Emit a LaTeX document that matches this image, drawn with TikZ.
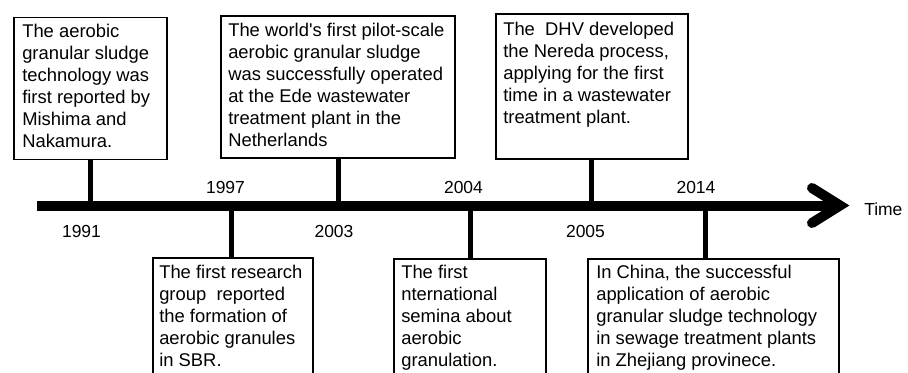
\documentclass[tikz,border=0pt]{standalone}
\usepackage{fontspec}
\setmainfont{Liberation Sans}
\newfontfamily\plainarial{Liberation Sans}
\begin{document}
\begin{tikzpicture}[x=0.75pt,y=-0.75pt,
  box/.style={draw=black, line width=1.3pt, fill=white, anchor=north west, inner sep=0pt},
  txt/.style={anchor=base west, align=left, inner sep=0pt, font=\plainarial\fontsize{13.8}{16.5}\selectfont},
  yr/.style={anchor=base, inner sep=0pt, font=\fontsize{13.1}{15}\selectfont},
  stem/.style={line width=3.75pt},
  axisline/.style={line width=7.5pt},
  head/.style={line width=7.5pt, line cap=round, line join=miter}]
\useasboundingbox (0,0) rectangle (908,372);
\clip (0,0) rectangle (908,372);
% axis
\coordinate (axs) at (37,205.5);
\coordinate (axe) at (838,205.5);
\coordinate (h1) at (812,188);
\coordinate (tip) at (840,205.5);
\coordinate (h2) at (812,223);
\draw[axisline] (axs) -- (axe);
\draw[head] (h1) -- (tip) -- (h2);
\node[anchor=base west, inner sep=0pt, font=\fontsize{13.1}{15}\selectfont] (time) at (864,215) {Time};
% tick coordinates on axis
\coordinate (a1) at (90.5,205.5);
\coordinate (a2) at (231,205.5);
\coordinate (a3) at (338.5,205.5);
\coordinate (a4) at (470,205.5);
\coordinate (a5) at (591.5,205.5);
\coordinate (a6) at (705,205.5);
% years
\node[yr] (y1991) at (81.5,237) {1991};
\node[yr] (y1997) at (225.5,193) {1997};
\node[yr] (y2003) at (334,237) {2003};
\node[yr] (y2004) at (463.5,193) {2004};
\node[yr] (y2005) at (585.5,237) {2005};
\node[yr] (y2014) at (696,193) {2014};
% top boxes
\node[box, minimum width=114.75pt, minimum height=106.5pt] (b1) at (13,16.7) {};
\node[box, minimum width=175.5pt, minimum height=106.5pt] (b2) at (220,15) {};
\node[box, minimum width=144pt, minimum height=108.75pt] (b3) at (495,13) {};
% bottom boxes (cut by the lower edge)
\node[box, minimum width=120pt, minimum height=97.5pt] (b4) at (152,257) {};
\node[box, minimum width=114pt, minimum height=97.5pt] (b5) at (393,258) {};
\node[box, minimum width=188.25pt, minimum height=97.5pt] (b6) at (587,258) {};
% stems
\draw[stem] (a1 |- b1.south) -- (a1);
\draw[stem] (a3 |- b2.south) -- (a3);
\draw[stem] (a5 |- b3.south) -- (a5);
\draw[stem] (a2) -- (a2 |- b4.north);
\draw[stem] (a4) -- (a4 |- b5.north);
\draw[stem] (a6) -- (a6 |- b6.north);
% texts (anchored at the baseline of the last line)
\node[txt] (t1) at (22,147.7) {The aerobic\\granular sludge\\technology was\\first reported by\\Mishima and\\Nakamura.};
\node[txt] (t2) at (228,146) {The world's first pilot-scale\\aerobic granular sludge\\was successfully operated\\at the Ede wastewater\\treatment plant in the\\Netherlands};
\node[txt] (t3) at (503,123) {The\ \ DHV developed\\the Nereda process,\\applying for the first\\time in a wastewater\\treatment plant.};
\node[txt] (t4) at (159,366) {The first research\\group\ \ reported\\the formation of\\aerobic granules\\in SBR.};
\node[txt] (t5) at (401,366) {The first\\nternational\\semina about\\aerobic\\granulation.};
\node[txt] (t6) at (596,366) {In China, the successful\\application of aerobic\\granular sludge technology\\in sewage treatment plants\\in Zhejiang provinece.};
\end{tikzpicture}
\end{document}
